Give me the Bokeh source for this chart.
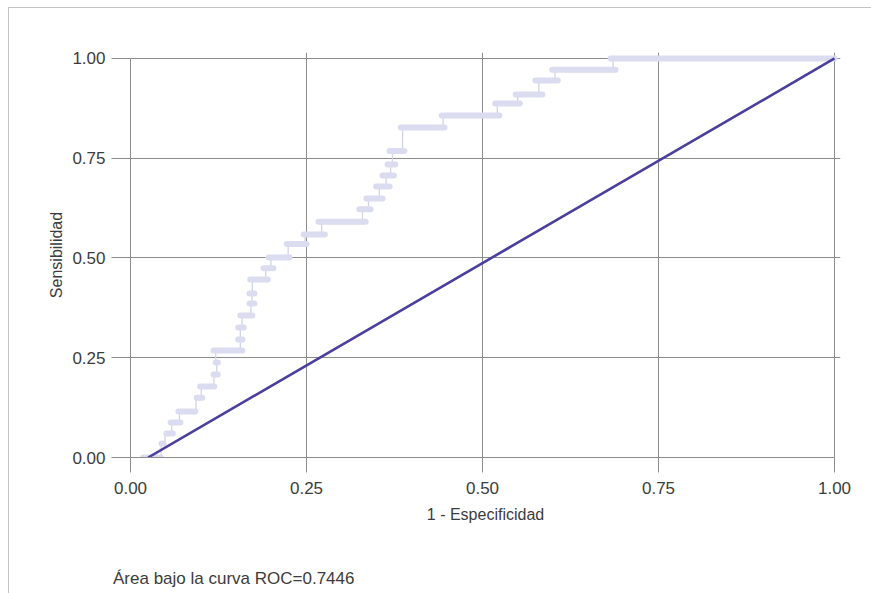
from bokeh.plotting import figure
from bokeh.models import Range1d, FixedTicker, NumeralTickFormatter, Div
from bokeh.layouts import column
from bokeh.embed import file_html
from bokeh.resources import INLINE

# ROC staircase: each sensitivity level with the span of 1-specificity it covers
sens = [0.000, 0.035, 0.060, 0.088, 0.115, 0.150, 0.178, 0.208, 0.238, 0.268,
        0.296, 0.326, 0.356, 0.386, 0.411, 0.446, 0.474, 0.501, 0.535, 0.559,
        0.591, 0.622, 0.649, 0.679, 0.707, 0.734, 0.768, 0.827, 0.857, 0.887,
        0.910, 0.945, 0.972, 1.000]
fpr_start = [0.018, 0.044, 0.051, 0.057, 0.068, 0.094, 0.099, 0.118, 0.121, 0.118,
             0.153, 0.153, 0.156, 0.169, 0.169, 0.170, 0.189, 0.196, 0.222, 0.246,
             0.267, 0.325, 0.335, 0.349, 0.358, 0.365, 0.368, 0.384, 0.442, 0.518,
             0.547, 0.575, 0.599, 0.682]
fpr_end = [0.043, 0.047, 0.060, 0.071, 0.092, 0.102, 0.119, 0.124, 0.124, 0.159,
           0.159, 0.161, 0.173, 0.176, 0.176, 0.195, 0.203, 0.226, 0.250, 0.276,
           0.334, 0.341, 0.358, 0.368, 0.374, 0.376, 0.389, 0.446, 0.524, 0.553,
           0.585, 0.607, 0.689, 1.000]

# reference line
ref_x = [0.025, 1.0]
ref_y = [0.0, 1.0]

ticks = [0.0, 0.25, 0.50, 0.75, 1.0]
auc_text = "Área bajo la curva ROC=0.7446"

FONT = "Liberation Sans"
GRID = "#8c8c8c"
TXT = "#3c3c3c"
LAV = "#dcdcf0"

p = figure(width=862, height=557, output_backend="svg", toolbar_location=None,
           x_range=Range1d(0, 1.0085), y_range=Range1d(0, 1.015),
           min_border_left=121, min_border_right=31, min_border_top=44,
           min_border_bottom=108)
p.outline_line_color = None
p.background_fill_color = "white"
p.border_fill_color = "white"

for g in (p.xgrid, p.ygrid):
    g.ticker = FixedTicker(ticks=ticks)
    g.grid_line_color = GRID
    g.grid_line_width = 1
    g.bounds = (0, 1)

for ax, tick_out in ((p.xaxis, 15), (p.yaxis, 19)):
    ax.ticker = FixedTicker(ticks=ticks)
    ax.formatter = NumeralTickFormatter(format="0.00")
    ax.bounds = (0, 1)
    ax.axis_line_color = GRID
    ax.major_tick_line_color = GRID
    ax.major_tick_in = 0
    ax.major_tick_out = tick_out
    ax.minor_tick_line_color = None
    ax.major_label_text_font = FONT
    ax.major_label_text_font_size = "17px"
    ax.major_label_text_color = TXT
    ax.axis_label_text_font = FONT
    ax.axis_label_text_font_size = "16px"
    ax.axis_label_text_color = TXT
    ax.axis_label_text_font_style = "normal"

p.xaxis.axis_label = "1 - Especificidad"
p.yaxis.axis_label = "Sensibilidad"
p.xaxis.major_label_standoff = 9
p.yaxis.major_label_standoff = 6
p.xaxis.axis_label_standoff = 9
p.yaxis.axis_label_standoff = 4

# vertical connectors between successive levels
conn_x = [(fpr_end[i] + fpr_start[i + 1]) / 2 for i in range(len(sens) - 1)]
p.segment(x0=conn_x, y0=sens[:-1], x1=conn_x, y1=sens[1:],
          line_color="#d2d2ea", line_width=1.3)
# horizontal steps
p.segment(x0=fpr_start, y0=sens, x1=fpr_end, y1=sens,
          line_color=LAV, line_width=6, line_cap="round")
# diagonal
p.line(ref_x, ref_y, line_color="#4b3f9d", line_width=2.6)

note = Div(text=auc_text, width=862, height=28,
           styles={"font-family": FONT, "font-size": "17px", "color": TXT,
                   "line-height": "28px", "padding-left": "104px",
                   "margin": "0", "box-sizing": "border-box"})

layout = column(p, note, spacing=0,
                styles={"margin-left": "8px", "margin-top": "7px",
                        "border-left": "1px solid #c4c4c4",
                        "border-top": "1px solid #c4c4c4"})

open("out.html", "w").write(file_html(layout, INLINE))
